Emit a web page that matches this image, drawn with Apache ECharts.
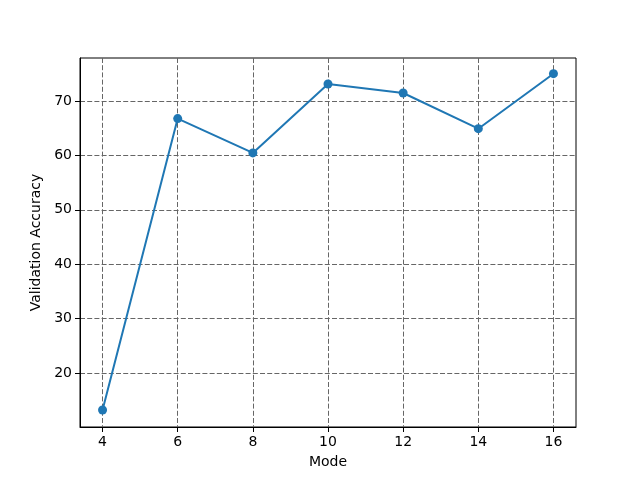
<!DOCTYPE html>
<html>
<head>
<meta charset="utf-8">
<script src="https://cdn.jsdelivr.net/npm/echarts@6/dist/echarts.min.js"></script>
<style>
  html, body { margin: 0; padding: 0; background: #fff; }
  #chart { width: 640px; height: 480px; }
</style>
</head>
<body>
<div id="chart"></div>
<script>
var modes = [4, 6, 8, 10, 12, 14, 16];
var accuracy = [13.25, 66.75, 60.45, 73.1, 71.45, 64.9, 75.0];
var xTicks = [4, 6, 8, 10, 12, 14, 16];
var yTicks = [20, 30, 40, 50, 60, 70];

var chart = echarts.init(document.getElementById('chart'));

var points = [];
for (var i = 0; i < modes.length; i++) {
    points.push([modes[i], accuracy[i]]);
}

var font = 'DejaVu Sans';
var gridLine = { show: true, lineStyle: { color: '#666', type: [5, 2.2], width: 1 } };

var option = {
    backgroundColor: '#fff',
    animation: false,
    grid: {
        left: 80, right: 64, top: 58, bottom: 53,
        show: true, borderColor: '#000', borderWidth: 1, backgroundColor: 'transparent'
    },
    xAxis: {
        type: 'value',
        min: 3.4,
        max: 16.6,
        name: 'Mode',
        nameLocation: 'middle',
        nameGap: 28,
        nameTextStyle: { fontFamily: font, fontSize: 14, color: '#000' },
        axisLine: { lineStyle: { color: '#000', width: 1 } },
        axisTick: { show: true, length: 5, customValues: xTicks, lineStyle: { color: '#000' } },
        axisLabel: { customValues: xTicks, margin: 8, fontFamily: font, fontSize: 14, color: '#000' },
        splitLine: gridLine
    },
    yAxis: {
        type: 'value',
        min: 10.12,
        max: 77.88,
        name: 'Validation Accuracy',
        nameLocation: 'middle',
        nameGap: 33,
        nameTextStyle: { fontFamily: font, fontSize: 14, color: '#000' },
        axisLine: { show: true, lineStyle: { color: '#000', width: 1 } },
        axisTick: { show: true, length: 5, customValues: yTicks, lineStyle: { color: '#000' } },
        axisLabel: { customValues: yTicks, margin: 8, fontFamily: font, fontSize: 14, color: '#000' },
        splitLine: gridLine
    },
    series: [{
        type: 'line',
        data: points,
        symbol: 'circle',
        symbolSize: 9,
        itemStyle: { color: '#1f77b4' },
        lineStyle: { color: '#1f77b4', width: 2 }
    }]
};

chart.setOption(option);
</script>
</body>
</html>
